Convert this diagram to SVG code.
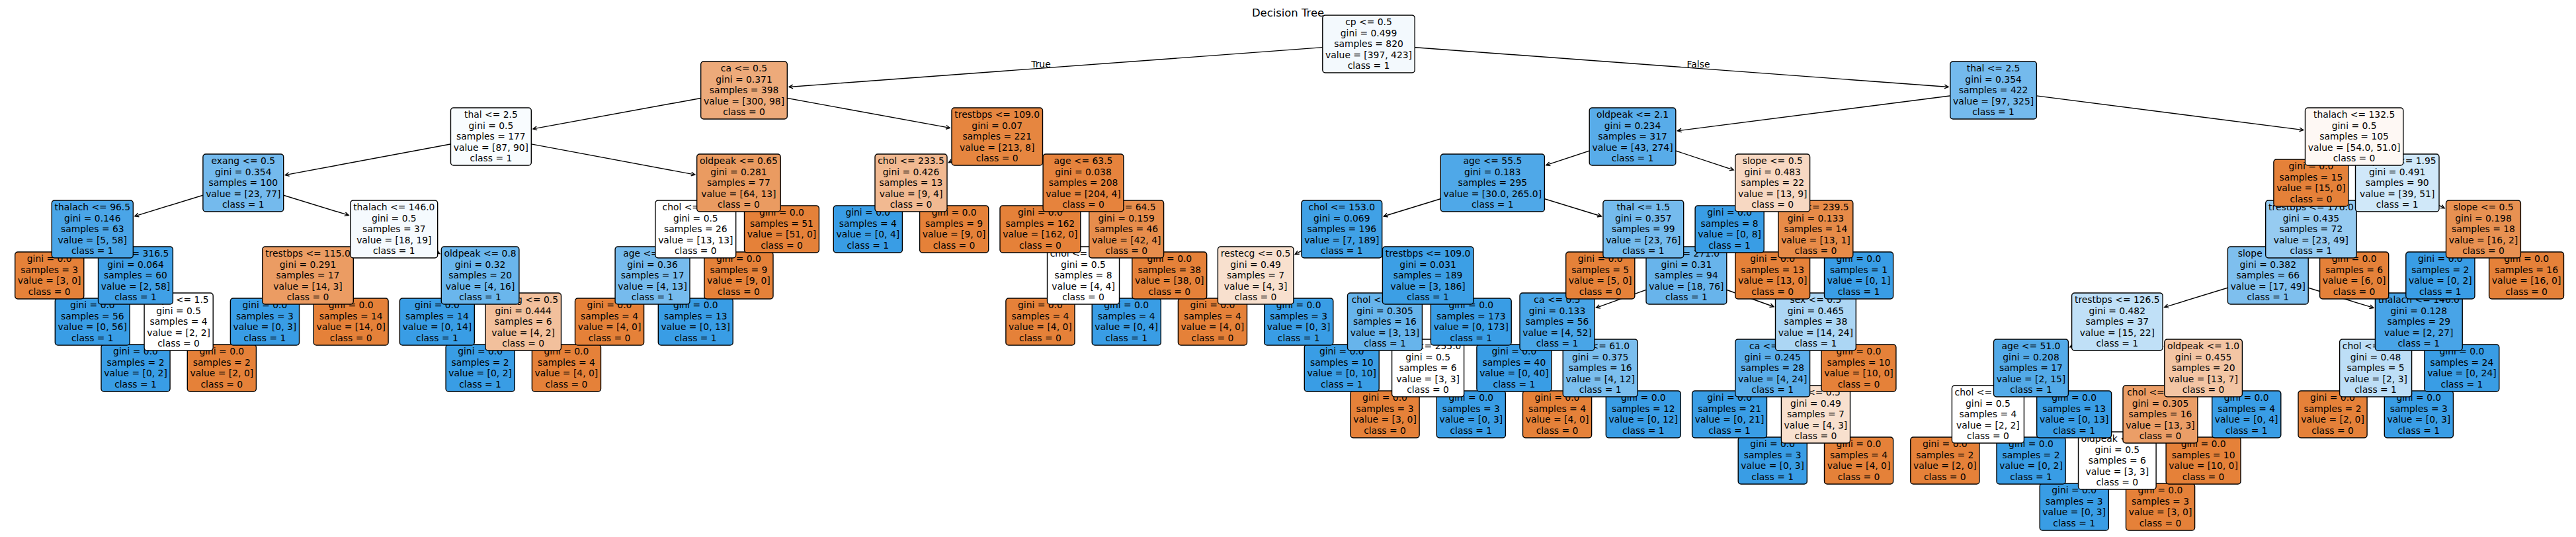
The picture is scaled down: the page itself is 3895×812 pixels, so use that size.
<svg xmlns="http://www.w3.org/2000/svg" width="3895" height="812" viewBox="0 0 3895 812">
<style>
.t{font-family:"DejaVu Sans","Liberation Sans",sans-serif;font-size:13.89px;text-anchor:middle;fill:#000}
.b{stroke:#000;stroke-width:1.39}
.o{fill:#e58139}
.c{fill:#399de5}
.e{fill:none;stroke:#000;stroke-width:1.39;marker-end:url(#ah)}
.lbl{font-family:"DejaVu Sans","Liberation Sans",sans-serif;font-size:13.89px;fill:#000}
</style>
<defs>
<marker id="ah" markerUnits="userSpaceOnUse" viewBox="-8 -6 12 12" markerWidth="12" markerHeight="12" refX="0" refY="0" orient="auto" overflow="visible"><path d="M-5.8,-2.9 L0,0 L-5.8,2.9" fill="none" stroke="#000" stroke-width="1.39"/></marker>
</defs>
<rect width="3895" height="812" fill="#fff"/>
<text x="1947.5" y="24.5" style="font-family:'DejaVu Sans','Liberation Sans',sans-serif;font-size:16.4px;text-anchor:middle;fill:#000">Decision Tree</text>
<g id="connectors">
<path class="e" d="M2069.5 66.5L1193.1 131.45"/>
<path class="e" d="M2069.5 66.5L2946 131.45"/>
<path class="e" d="M1125 136.5L806 194.86"/>
<path class="e" d="M1125 136.5L1436.2 193.43"/>
<path class="e" d="M742.4 206.5L431.4 264.61"/>
<path class="e" d="M742.4 206.5L1050.9 264.17"/>
<path class="e" d="M367.8 276.5L204 326.8"/>
<path class="e" d="M367.8 276.5L527.2 325.45"/>
<path class="e" d="M139.8 346.5L109.6 378.96"/>
<path class="e" d="M139.8 346.5L162.6 370.96"/>
<path class="e" d="M205 416.5L174.75 448.96"/>
<path class="e" d="M205 416.5L227.8 440.96"/>
<path class="e" d="M270.1 486.5L239.9 518.96"/>
<path class="e" d="M270.1 486.5L300.3 518.96"/>
<path class="e" d="M595.8 346.5L536.7 378.25"/>
<path class="e" d="M595.8 346.5L664.85 383.6"/>
<path class="e" d="M465.5 416.5L435.3 448.96"/>
<path class="e" d="M465.5 416.5L495.7 448.96"/>
<path class="e" d="M726.1 416.5L695.85 448.96"/>
<path class="e" d="M726.1 416.5L748.9 440.96"/>
<path class="e" d="M791.2 486.5L761 518.96"/>
<path class="e" d="M791.2 486.5L821.4 518.96"/>
<path class="e" d="M1116.9 276.5L1094.1 300.96"/>
<path class="e" d="M1116.9 276.5L1147.1 308.96"/>
<path class="e" d="M1051.8 346.5L1029 370.96"/>
<path class="e" d="M1051.8 346.5L1082 378.96"/>
<path class="e" d="M986.6 416.5L956.4 448.96"/>
<path class="e" d="M986.6 416.5L1016.8 448.96"/>
<path class="e" d="M1507.7 206.5L1434.45 245.88"/>
<path class="e" d="M1507.7 206.5L1574.65 242.46"/>
<path class="e" d="M1377.5 276.5L1347.25 308.96"/>
<path class="e" d="M1377.5 276.5L1407.7 308.96"/>
<path class="e" d="M1638 276.5L1607.8 308.96"/>
<path class="e" d="M1638 276.5L1660.8 300.96"/>
<path class="e" d="M1703.2 346.5L1680.4 370.96"/>
<path class="e" d="M1703.2 346.5L1733.4 378.96"/>
<path class="e" d="M1638 416.5L1607.8 448.96"/>
<path class="e" d="M1638 416.5L1668.2 448.96"/>
<path class="e" d="M3014.1 136.5L2536.56 197.77"/>
<path class="e" d="M3014.1 136.5L3482.7 196.64"/>
<path class="e" d="M2468.5 206.5L2337.99 249.66"/>
<path class="e" d="M2468.5 206.5L2621.11 256.96"/>
<path class="e" d="M2256.8 276.5L2092.36 326.98"/>
<path class="e" d="M2256.8 276.5L2421.24 326.98"/>
<path class="e" d="M2028.8 346.5L1958.3 384.4"/>
<path class="e" d="M2028.8 346.5L2087.9 378.25"/>
<path class="e" d="M1898.6 416.5L1868.35 448.96"/>
<path class="e" d="M1898.6 416.5L1928.8 448.96"/>
<path class="e" d="M2159.1 416.5L2136.3 440.96"/>
<path class="e" d="M2159.1 416.5L2189.35 448.96"/>
<path class="e" d="M2094 486.5L2063.75 518.96"/>
<path class="e" d="M2094 486.5L2116.8 510.96"/>
<path class="e" d="M2159.1 556.5L2128.9 588.96"/>
<path class="e" d="M2159.1 556.5L2189.3 588.96"/>
<path class="e" d="M2484.8 346.5L2454.6 378.96"/>
<path class="e" d="M2484.8 346.5L2507.6 370.96"/>
<path class="e" d="M2549.9 416.5L2413.57 465.34"/>
<path class="e" d="M2549.9 416.5L2681.9 463.76"/>
<path class="e" d="M2354.5 486.5L2324.3 518.96"/>
<path class="e" d="M2354.5 486.5L2377.3 510.96"/>
<path class="e" d="M2419.7 556.5L2389.5 588.96"/>
<path class="e" d="M2419.7 556.5L2449.9 588.96"/>
<path class="e" d="M2745.4 486.5L2722.6 510.96"/>
<path class="e" d="M2745.4 486.5L2775.6 518.96"/>
<path class="e" d="M2680.2 556.5L2650 588.96"/>
<path class="e" d="M2680.2 556.5L2703 580.96"/>
<path class="e" d="M2745.4 626.5L2715.2 658.96"/>
<path class="e" d="M2745.4 626.5L2775.6 658.96"/>
<path class="e" d="M2680.2 276.5L2650 308.96"/>
<path class="e" d="M2680.2 276.5L2703 300.96"/>
<path class="e" d="M2745.4 346.5L2715.2 378.96"/>
<path class="e" d="M2745.4 346.5L2775.6 378.96"/>
<path class="e" d="M3559.6 206.5L3529.4 238.96"/>
<path class="e" d="M3559.6 206.5L3582.4 230.96"/>
<path class="e" d="M3624.7 276.5L3565.6 308.25"/>
<path class="e" d="M3624.7 276.5L3696.1 314.85"/>
<path class="e" d="M3494.4 346.5L3471.6 370.96"/>
<path class="e" d="M3494.4 346.5L3524.6 378.96"/>
<path class="e" d="M3429.3 416.5L3272.7 464.57"/>
<path class="e" d="M3429.3 416.5L3588.74 465.45"/>
<path class="e" d="M3201.3 486.5L3129.9 524.85"/>
<path class="e" d="M3201.3 486.5L3270.35 523.6"/>
<path class="e" d="M3071 556.5L3048.2 580.96"/>
<path class="e" d="M3071 556.5L3101.2 588.96"/>
<path class="e" d="M3005.9 626.5L2975.7 658.96"/>
<path class="e" d="M3005.9 626.5L3036.1 658.96"/>
<path class="e" d="M3331.6 556.5L3308.8 580.96"/>
<path class="e" d="M3331.6 556.5L3361.8 588.96"/>
<path class="e" d="M3266.5 626.5L3243.7 650.96"/>
<path class="e" d="M3266.5 626.5L3296.7 658.96"/>
<path class="e" d="M3201.3 696.5L3171.1 728.96"/>
<path class="e" d="M3201.3 696.5L3231.5 728.96"/>
<path class="e" d="M3657.3 486.5L3634.5 510.96"/>
<path class="e" d="M3657.3 486.5L3687.5 518.96"/>
<path class="e" d="M3592.1 556.5L3561.9 588.96"/>
<path class="e" d="M3592.1 556.5L3622.3 588.96"/>
<path class="e" d="M3755 346.5L3724.8 378.96"/>
<path class="e" d="M3755 346.5L3785.2 378.96"/>
<text class="lbl" x="1588.7" y="101.5" text-anchor="end">True</text>
<text class="lbl" x="2550.6" y="101.5">False</text>
</g>
<g id="nodes">
<g id="n86"><rect class="b c" x="3084.2" y="731" width="104.1" height="71" rx="4.2"/><text class="t" y="746.25"><tspan x="3136.2">gini = 0.0</tspan><tspan x="3136.2" dy="16.5">samples = 3</tspan><tspan x="3136.2" dy="16.5">value = [0, 3]</tspan><tspan x="3136.2" dy="16.5">class = 1</tspan></text></g>
<g id="n87"><rect class="b o" x="3214.5" y="731" width="104.1" height="71" rx="4.2"/><text class="t" y="746.25"><tspan x="3266.5">gini = 0.0</tspan><tspan x="3266.5" dy="16.5">samples = 3</tspan><tspan x="3266.5" dy="16.5">value = [3, 0]</tspan><tspan x="3266.5" dy="16.5">class = 0</tspan></text></g>
<g id="n64"><rect class="b c" x="2628.2" y="661" width="104.1" height="71" rx="4.2"/><text class="t" y="676.25"><tspan x="2680.2">gini = 0.0</tspan><tspan x="2680.2" dy="16.5">samples = 3</tspan><tspan x="2680.2" dy="16.5">value = [0, 3]</tspan><tspan x="2680.2" dy="16.5">class = 1</tspan></text></g>
<g id="n65"><rect class="b o" x="2758.5" y="661" width="104.1" height="71" rx="4.2"/><text class="t" y="676.25"><tspan x="2810.5">gini = 0.0</tspan><tspan x="2810.5" dy="16.5">samples = 4</tspan><tspan x="2810.5" dy="16.5">value = [4, 0]</tspan><tspan x="2810.5" dy="16.5">class = 0</tspan></text></g>
<g id="n80"><rect class="b o" x="2888.8" y="661" width="104.1" height="71" rx="4.2"/><text class="t" y="676.25"><tspan x="2940.8">gini = 0.0</tspan><tspan x="2940.8" dy="16.5">samples = 2</tspan><tspan x="2940.8" dy="16.5">value = [2, 0]</tspan><tspan x="2940.8" dy="16.5">class = 0</tspan></text></g>
<g id="n81"><rect class="b c" x="3019" y="661" width="104.1" height="71" rx="4.2"/><text class="t" y="676.25"><tspan x="3071">gini = 0.0</tspan><tspan x="3071" dy="16.5">samples = 2</tspan><tspan x="3071" dy="16.5">value = [0, 2]</tspan><tspan x="3071" dy="16.5">class = 1</tspan></text></g>
<g id="n85"><rect class="b" fill="#ffffff" x="3142.5" y="653" width="117.6" height="87" rx="4.2"/><text class="t" y="668"><tspan x="3201.3">oldpeak &lt;= 0.3</tspan><tspan x="3201.3" dy="16.5">gini = 0.5</tspan><tspan x="3201.3" dy="16.5">samples = 6</tspan><tspan x="3201.3" dy="16.5">value = [3, 3]</tspan><tspan x="3201.3" dy="16.5">class = 0</tspan></text></g>
<g id="n88"><rect class="b o" x="3275.1" y="661" width="112.9" height="71" rx="4.2"/><text class="t" y="676.25"><tspan x="3331.6">gini = 0.0</tspan><tspan x="3331.6" dy="16.5">samples = 10</tspan><tspan x="3331.6" dy="16.5">value = [10, 0]</tspan><tspan x="3331.6" dy="16.5">class = 0</tspan></text></g>
<g id="n49"><rect class="b o" x="2042" y="591" width="104.1" height="71" rx="4.2"/><text class="t" y="606.25"><tspan x="2094">gini = 0.0</tspan><tspan x="2094" dy="16.5">samples = 3</tspan><tspan x="2094" dy="16.5">value = [3, 0]</tspan><tspan x="2094" dy="16.5">class = 0</tspan></text></g>
<g id="n50"><rect class="b c" x="2172.3" y="591" width="104.1" height="71" rx="4.2"/><text class="t" y="606.25"><tspan x="2224.3">gini = 0.0</tspan><tspan x="2224.3" dy="16.5">samples = 3</tspan><tspan x="2224.3" dy="16.5">value = [0, 3]</tspan><tspan x="2224.3" dy="16.5">class = 1</tspan></text></g>
<g id="n58"><rect class="b o" x="2302.5" y="591" width="104.1" height="71" rx="4.2"/><text class="t" y="606.25"><tspan x="2354.5">gini = 0.0</tspan><tspan x="2354.5" dy="16.5">samples = 4</tspan><tspan x="2354.5" dy="16.5">value = [4, 0]</tspan><tspan x="2354.5" dy="16.5">class = 0</tspan></text></g>
<g id="n59"><rect class="b c" x="2428.3" y="591" width="112.9" height="71" rx="4.2"/><text class="t" y="606.25"><tspan x="2484.8">gini = 0.0</tspan><tspan x="2484.8" dy="16.5">samples = 12</tspan><tspan x="2484.8" dy="16.5">value = [0, 12]</tspan><tspan x="2484.8" dy="16.5">class = 1</tspan></text></g>
<g id="n62"><rect class="b c" x="2558.6" y="591" width="112.9" height="71" rx="4.2"/><text class="t" y="606.25"><tspan x="2615.1">gini = 0.0</tspan><tspan x="2615.1" dy="16.5">samples = 21</tspan><tspan x="2615.1" dy="16.5">value = [0, 21]</tspan><tspan x="2615.1" dy="16.5">class = 1</tspan></text></g>
<g id="n63"><rect class="b" fill="#f8e0ce" x="2693.4" y="583" width="104.1" height="87" rx="4.2"/><text class="t" y="598"><tspan x="2745.4">fbs &lt;= 0.5</tspan><tspan x="2745.4" dy="16.5">gini = 0.49</tspan><tspan x="2745.4" dy="16.5">samples = 7</tspan><tspan x="2745.4" dy="16.5">value = [4, 3]</tspan><tspan x="2745.4" dy="16.5">class = 0</tspan></text></g>
<g id="n79"><rect class="b" fill="#ffffff" x="2951.4" y="583" width="109" height="87" rx="4.2"/><text class="t" y="598"><tspan x="3005.9">chol &lt;= 226.5</tspan><tspan x="3005.9" dy="16.5">gini = 0.5</tspan><tspan x="3005.9" dy="16.5">samples = 4</tspan><tspan x="3005.9" dy="16.5">value = [2, 2]</tspan><tspan x="3005.9" dy="16.5">class = 0</tspan></text></g>
<g id="n82"><rect class="b c" x="3079.7" y="591" width="112.9" height="71" rx="4.2"/><text class="t" y="606.25"><tspan x="3136.2">gini = 0.0</tspan><tspan x="3136.2" dy="16.5">samples = 13</tspan><tspan x="3136.2" dy="16.5">value = [0, 13]</tspan><tspan x="3136.2" dy="16.5">class = 1</tspan></text></g>
<g id="n84"><rect class="b" fill="#eb9e67" x="3210" y="583" width="112.9" height="87" rx="4.2"/><text class="t" y="598"><tspan x="3266.5">chol &lt;= 237.0</tspan><tspan x="3266.5" dy="16.5">gini = 0.305</tspan><tspan x="3266.5" dy="16.5">samples = 16</tspan><tspan x="3266.5" dy="16.5">value = [13, 3]</tspan><tspan x="3266.5" dy="16.5">class = 0</tspan></text></g>
<g id="n89"><rect class="b c" x="3344.7" y="591" width="104.1" height="71" rx="4.2"/><text class="t" y="606.25"><tspan x="3396.7">gini = 0.0</tspan><tspan x="3396.7" dy="16.5">samples = 4</tspan><tspan x="3396.7" dy="16.5">value = [0, 4]</tspan><tspan x="3396.7" dy="16.5">class = 1</tspan></text></g>
<g id="n92"><rect class="b o" x="3475" y="591" width="104.1" height="71" rx="4.2"/><text class="t" y="606.25"><tspan x="3527">gini = 0.0</tspan><tspan x="3527" dy="16.5">samples = 2</tspan><tspan x="3527" dy="16.5">value = [2, 0]</tspan><tspan x="3527" dy="16.5">class = 0</tspan></text></g>
<g id="n93"><rect class="b c" x="3605.3" y="591" width="104.1" height="71" rx="4.2"/><text class="t" y="606.25"><tspan x="3657.3">gini = 0.0</tspan><tspan x="3657.3" dy="16.5">samples = 3</tspan><tspan x="3657.3" dy="16.5">value = [0, 3]</tspan><tspan x="3657.3" dy="16.5">class = 1</tspan></text></g>
<g id="n9"><rect class="b c" x="153" y="521" width="104.1" height="71" rx="4.2"/><text class="t" y="536.25"><tspan x="205">gini = 0.0</tspan><tspan x="205" dy="16.5">samples = 2</tspan><tspan x="205" dy="16.5">value = [0, 2]</tspan><tspan x="205" dy="16.5">class = 1</tspan></text></g>
<g id="n10"><rect class="b o" x="283.3" y="521" width="104.1" height="71" rx="4.2"/><text class="t" y="536.25"><tspan x="335.3">gini = 0.0</tspan><tspan x="335.3" dy="16.5">samples = 2</tspan><tspan x="335.3" dy="16.5">value = [2, 0]</tspan><tspan x="335.3" dy="16.5">class = 0</tspan></text></g>
<g id="n18"><rect class="b c" x="674.1" y="521" width="104.1" height="71" rx="4.2"/><text class="t" y="536.25"><tspan x="726.1">gini = 0.0</tspan><tspan x="726.1" dy="16.5">samples = 2</tspan><tspan x="726.1" dy="16.5">value = [0, 2]</tspan><tspan x="726.1" dy="16.5">class = 1</tspan></text></g>
<g id="n19"><rect class="b o" x="804.4" y="521" width="104.1" height="71" rx="4.2"/><text class="t" y="536.25"><tspan x="856.4">gini = 0.0</tspan><tspan x="856.4" dy="16.5">samples = 4</tspan><tspan x="856.4" dy="16.5">value = [4, 0]</tspan><tspan x="856.4" dy="16.5">class = 0</tspan></text></g>
<g id="n47"><rect class="b c" x="1972.3" y="521" width="112.9" height="71" rx="4.2"/><text class="t" y="536.25"><tspan x="2028.8">gini = 0.0</tspan><tspan x="2028.8" dy="16.5">samples = 10</tspan><tspan x="2028.8" dy="16.5">value = [0, 10]</tspan><tspan x="2028.8" dy="16.5">class = 1</tspan></text></g>
<g id="n48"><rect class="b" fill="#ffffff" x="2104.6" y="513" width="109" height="87" rx="4.2"/><text class="t" y="528"><tspan x="2159.1">chol &lt;= 255.0</tspan><tspan x="2159.1" dy="16.5">gini = 0.5</tspan><tspan x="2159.1" dy="16.5">samples = 6</tspan><tspan x="2159.1" dy="16.5">value = [3, 3]</tspan><tspan x="2159.1" dy="16.5">class = 0</tspan></text></g>
<g id="n56"><rect class="b c" x="2232.9" y="521" width="112.9" height="71" rx="4.2"/><text class="t" y="536.25"><tspan x="2289.4">gini = 0.0</tspan><tspan x="2289.4" dy="16.5">samples = 40</tspan><tspan x="2289.4" dy="16.5">value = [0, 40]</tspan><tspan x="2289.4" dy="16.5">class = 1</tspan></text></g>
<g id="n57"><rect class="b" fill="#7bbeee" x="2363.2" y="513" width="112.9" height="87" rx="4.2"/><text class="t" y="528"><tspan x="2419.7">age &lt;= 61.0</tspan><tspan x="2419.7" dy="16.5">gini = 0.375</tspan><tspan x="2419.7" dy="16.5">samples = 16</tspan><tspan x="2419.7" dy="16.5">value = [4, 12]</tspan><tspan x="2419.7" dy="16.5">class = 1</tspan></text></g>
<g id="n61"><rect class="b" fill="#5aade9" x="2623.7" y="513" width="112.9" height="87" rx="4.2"/><text class="t" y="528"><tspan x="2680.2">ca &lt;= 0.5</tspan><tspan x="2680.2" dy="16.5">gini = 0.245</tspan><tspan x="2680.2" dy="16.5">samples = 28</tspan><tspan x="2680.2" dy="16.5">value = [4, 24]</tspan><tspan x="2680.2" dy="16.5">class = 1</tspan></text></g>
<g id="n66"><rect class="b o" x="2754" y="521" width="112.9" height="71" rx="4.2"/><text class="t" y="536.25"><tspan x="2810.5">gini = 0.0</tspan><tspan x="2810.5" dy="16.5">samples = 10</tspan><tspan x="2810.5" dy="16.5">value = [10, 0]</tspan><tspan x="2810.5" dy="16.5">class = 0</tspan></text></g>
<g id="n78"><rect class="b" fill="#53aae8" x="3014.5" y="513" width="112.9" height="87" rx="4.2"/><text class="t" y="528"><tspan x="3071">age &lt;= 51.0</tspan><tspan x="3071" dy="16.5">gini = 0.208</tspan><tspan x="3071" dy="16.5">samples = 17</tspan><tspan x="3071" dy="16.5">value = [2, 15]</tspan><tspan x="3071" dy="16.5">class = 1</tspan></text></g>
<g id="n83"><rect class="b" fill="#f3c5a4" x="3272.8" y="513" width="117.6" height="87" rx="4.2"/><text class="t" y="528"><tspan x="3331.6">oldpeak &lt;= 1.0</tspan><tspan x="3331.6" dy="16.5">gini = 0.455</tspan><tspan x="3331.6" dy="16.5">samples = 20</tspan><tspan x="3331.6" dy="16.5">value = [13, 7]</tspan><tspan x="3331.6" dy="16.5">class = 0</tspan></text></g>
<g id="n91"><rect class="b" fill="#bddef6" x="3537.6" y="513" width="109" height="87" rx="4.2"/><text class="t" y="528"><tspan x="3592.1">chol &lt;= 250.5</tspan><tspan x="3592.1" dy="16.5">gini = 0.48</tspan><tspan x="3592.1" dy="16.5">samples = 5</tspan><tspan x="3592.1" dy="16.5">value = [2, 3]</tspan><tspan x="3592.1" dy="16.5">class = 1</tspan></text></g>
<g id="n94"><rect class="b c" x="3665.9" y="521" width="112.9" height="71" rx="4.2"/><text class="t" y="536.25"><tspan x="3722.4">gini = 0.0</tspan><tspan x="3722.4" dy="16.5">samples = 24</tspan><tspan x="3722.4" dy="16.5">value = [0, 24]</tspan><tspan x="3722.4" dy="16.5">class = 1</tspan></text></g>
<g id="n7"><rect class="b c" x="83.3" y="451" width="112.9" height="71" rx="4.2"/><text class="t" y="466.25"><tspan x="139.8">gini = 0.0</tspan><tspan x="139.8" dy="16.5">samples = 56</tspan><tspan x="139.8" dy="16.5">value = [0, 56]</tspan><tspan x="139.8" dy="16.5">class = 1</tspan></text></g>
<g id="n8"><rect class="b" fill="#ffffff" x="218.1" y="443" width="104.1" height="87" rx="4.2"/><text class="t" y="458"><tspan x="270.1">slope &lt;= 1.5</tspan><tspan x="270.1" dy="16.5">gini = 0.5</tspan><tspan x="270.1" dy="16.5">samples = 4</tspan><tspan x="270.1" dy="16.5">value = [2, 2]</tspan><tspan x="270.1" dy="16.5">class = 0</tspan></text></g>
<g id="n13"><rect class="b c" x="348.4" y="451" width="104.1" height="71" rx="4.2"/><text class="t" y="466.25"><tspan x="400.4">gini = 0.0</tspan><tspan x="400.4" dy="16.5">samples = 3</tspan><tspan x="400.4" dy="16.5">value = [0, 3]</tspan><tspan x="400.4" dy="16.5">class = 1</tspan></text></g>
<g id="n14"><rect class="b o" x="474.2" y="451" width="112.9" height="71" rx="4.2"/><text class="t" y="466.25"><tspan x="530.7">gini = 0.0</tspan><tspan x="530.7" dy="16.5">samples = 14</tspan><tspan x="530.7" dy="16.5">value = [14, 0]</tspan><tspan x="530.7" dy="16.5">class = 0</tspan></text></g>
<g id="n16"><rect class="b c" x="604.4" y="451" width="112.9" height="71" rx="4.2"/><text class="t" y="466.25"><tspan x="660.9">gini = 0.0</tspan><tspan x="660.9" dy="16.5">samples = 14</tspan><tspan x="660.9" dy="16.5">value = [0, 14]</tspan><tspan x="660.9" dy="16.5">class = 1</tspan></text></g>
<g id="n17"><rect class="b" fill="#f2c09c" x="734" y="443" width="114.5" height="87" rx="4.2"/><text class="t" y="458"><tspan x="791.2">restecg &lt;= 0.5</tspan><tspan x="791.2" dy="16.5">gini = 0.444</tspan><tspan x="791.2" dy="16.5">samples = 6</tspan><tspan x="791.2" dy="16.5">value = [4, 2]</tspan><tspan x="791.2" dy="16.5">class = 0</tspan></text></g>
<g id="n23"><rect class="b o" x="869.5" y="451" width="104.1" height="71" rx="4.2"/><text class="t" y="466.25"><tspan x="921.5">gini = 0.0</tspan><tspan x="921.5" dy="16.5">samples = 4</tspan><tspan x="921.5" dy="16.5">value = [4, 0]</tspan><tspan x="921.5" dy="16.5">class = 0</tspan></text></g>
<g id="n24"><rect class="b c" x="995.3" y="451" width="112.9" height="71" rx="4.2"/><text class="t" y="466.25"><tspan x="1051.8">gini = 0.0</tspan><tspan x="1051.8" dy="16.5">samples = 13</tspan><tspan x="1051.8" dy="16.5">value = [0, 13]</tspan><tspan x="1051.8" dy="16.5">class = 1</tspan></text></g>
<g id="n35"><rect class="b o" x="1520.9" y="451" width="104.1" height="71" rx="4.2"/><text class="t" y="466.25"><tspan x="1572.9">gini = 0.0</tspan><tspan x="1572.9" dy="16.5">samples = 4</tspan><tspan x="1572.9" dy="16.5">value = [4, 0]</tspan><tspan x="1572.9" dy="16.5">class = 0</tspan></text></g>
<g id="n36"><rect class="b c" x="1651.2" y="451" width="104.1" height="71" rx="4.2"/><text class="t" y="466.25"><tspan x="1703.2">gini = 0.0</tspan><tspan x="1703.2" dy="16.5">samples = 4</tspan><tspan x="1703.2" dy="16.5">value = [0, 4]</tspan><tspan x="1703.2" dy="16.5">class = 1</tspan></text></g>
<g id="n43"><rect class="b o" x="1781.4" y="451" width="104.1" height="71" rx="4.2"/><text class="t" y="466.25"><tspan x="1833.4">gini = 0.0</tspan><tspan x="1833.4" dy="16.5">samples = 4</tspan><tspan x="1833.4" dy="16.5">value = [4, 0]</tspan><tspan x="1833.4" dy="16.5">class = 0</tspan></text></g>
<g id="n44"><rect class="b c" x="1911.7" y="451" width="104.1" height="71" rx="4.2"/><text class="t" y="466.25"><tspan x="1963.7">gini = 0.0</tspan><tspan x="1963.7" dy="16.5">samples = 3</tspan><tspan x="1963.7" dy="16.5">value = [0, 3]</tspan><tspan x="1963.7" dy="16.5">class = 1</tspan></text></g>
<g id="n46"><rect class="b" fill="#67b4eb" x="2037.5" y="443" width="112.9" height="87" rx="4.2"/><text class="t" y="458"><tspan x="2094">chol &lt;= 200.5</tspan><tspan x="2094" dy="16.5">gini = 0.305</tspan><tspan x="2094" dy="16.5">samples = 16</tspan><tspan x="2094" dy="16.5">value = [3, 13]</tspan><tspan x="2094" dy="16.5">class = 1</tspan></text></g>
<g id="n51"><rect class="b c" x="2163.4" y="451" width="121.8" height="71" rx="4.2"/><text class="t" y="466.25"><tspan x="2224.3">gini = 0.0</tspan><tspan x="2224.3" dy="16.5">samples = 173</tspan><tspan x="2224.3" dy="16.5">value = [0, 173]</tspan><tspan x="2224.3" dy="16.5">class = 1</tspan></text></g>
<g id="n55"><rect class="b" fill="#48a5e7" x="2298" y="443" width="112.9" height="87" rx="4.2"/><text class="t" y="458"><tspan x="2354.5">ca &lt;= 0.5</tspan><tspan x="2354.5" dy="16.5">gini = 0.133</tspan><tspan x="2354.5" dy="16.5">samples = 56</tspan><tspan x="2354.5" dy="16.5">value = [4, 52]</tspan><tspan x="2354.5" dy="16.5">class = 1</tspan></text></g>
<g id="n60"><rect class="b" fill="#acd6f4" x="2684.5" y="443" width="121.8" height="87" rx="4.2"/><text class="t" y="458"><tspan x="2745.4">sex &lt;= 0.5</tspan><tspan x="2745.4" dy="16.5">gini = 0.465</tspan><tspan x="2745.4" dy="16.5">samples = 38</tspan><tspan x="2745.4" dy="16.5">value = [14, 24]</tspan><tspan x="2745.4" dy="16.5">class = 1</tspan></text></g>
<g id="n77"><rect class="b" fill="#c0e0f7" x="3132.6" y="443" width="137.5" height="87" rx="4.2"/><text class="t" y="458"><tspan x="3201.3">trestbps &lt;= 126.5</tspan><tspan x="3201.3" dy="16.5">gini = 0.482</tspan><tspan x="3201.3" dy="16.5">samples = 37</tspan><tspan x="3201.3" dy="16.5">value = [15, 22]</tspan><tspan x="3201.3" dy="16.5">class = 1</tspan></text></g>
<g id="n90"><rect class="b" fill="#48a4e7" x="3591.4" y="443" width="131.8" height="87" rx="4.2"/><text class="t" y="458"><tspan x="3657.3">thalach &lt;= 146.0</tspan><tspan x="3657.3" dy="16.5">gini = 0.128</tspan><tspan x="3657.3" dy="16.5">samples = 29</tspan><tspan x="3657.3" dy="16.5">value = [2, 27]</tspan><tspan x="3657.3" dy="16.5">class = 1</tspan></text></g>
<g id="n5"><rect class="b o" x="22.7" y="381" width="104.1" height="71" rx="4.2"/><text class="t" y="396.25"><tspan x="74.7">gini = 0.0</tspan><tspan x="74.7" dy="16.5">samples = 3</tspan><tspan x="74.7" dy="16.5">value = [3, 0]</tspan><tspan x="74.7" dy="16.5">class = 0</tspan></text></g>
<g id="n6"><rect class="b" fill="#40a0e6" x="148.5" y="373" width="112.9" height="87" rx="4.2"/><text class="t" y="388"><tspan x="205">chol &lt;= 316.5</tspan><tspan x="205" dy="16.5">gini = 0.064</tspan><tspan x="205" dy="16.5">samples = 60</tspan><tspan x="205" dy="16.5">value = [2, 58]</tspan><tspan x="205" dy="16.5">class = 1</tspan></text></g>
<g id="n12"><rect class="b" fill="#eb9c63" x="396.8" y="373" width="137.5" height="87" rx="4.2"/><text class="t" y="388"><tspan x="465.5">trestbps &lt;= 115.0</tspan><tspan x="465.5" dy="16.5">gini = 0.291</tspan><tspan x="465.5" dy="16.5">samples = 17</tspan><tspan x="465.5" dy="16.5">value = [14, 3]</tspan><tspan x="465.5" dy="16.5">class = 0</tspan></text></g>
<g id="n15"><rect class="b" fill="#6ab6ec" x="667.3" y="373" width="117.6" height="87" rx="4.2"/><text class="t" y="388"><tspan x="726.1">oldpeak &lt;= 0.8</tspan><tspan x="726.1" dy="16.5">gini = 0.32</tspan><tspan x="726.1" dy="16.5">samples = 20</tspan><tspan x="726.1" dy="16.5">value = [4, 16]</tspan><tspan x="726.1" dy="16.5">class = 1</tspan></text></g>
<g id="n22"><rect class="b" fill="#76bbed" x="930.1" y="373" width="112.9" height="87" rx="4.2"/><text class="t" y="388"><tspan x="986.6">age &lt;= 56.5</tspan><tspan x="986.6" dy="16.5">gini = 0.36</tspan><tspan x="986.6" dy="16.5">samples = 17</tspan><tspan x="986.6" dy="16.5">value = [4, 13]</tspan><tspan x="986.6" dy="16.5">class = 1</tspan></text></g>
<g id="n25"><rect class="b o" x="1064.9" y="381" width="104.1" height="71" rx="4.2"/><text class="t" y="396.25"><tspan x="1116.9">gini = 0.0</tspan><tspan x="1116.9" dy="16.5">samples = 9</tspan><tspan x="1116.9" dy="16.5">value = [9, 0]</tspan><tspan x="1116.9" dy="16.5">class = 0</tspan></text></g>
<g id="n34"><rect class="b" fill="#ffffff" x="1583.5" y="373" width="109" height="87" rx="4.2"/><text class="t" y="388"><tspan x="1638">chol &lt;= 241.5</tspan><tspan x="1638" dy="16.5">gini = 0.5</tspan><tspan x="1638" dy="16.5">samples = 8</tspan><tspan x="1638" dy="16.5">value = [4, 4]</tspan><tspan x="1638" dy="16.5">class = 0</tspan></text></g>
<g id="n37"><rect class="b o" x="1711.8" y="381" width="112.9" height="71" rx="4.2"/><text class="t" y="396.25"><tspan x="1768.3">gini = 0.0</tspan><tspan x="1768.3" dy="16.5">samples = 38</tspan><tspan x="1768.3" dy="16.5">value = [38, 0]</tspan><tspan x="1768.3" dy="16.5">class = 0</tspan></text></g>
<g id="n42"><rect class="b" fill="#f8e0ce" x="1841.4" y="373" width="114.5" height="87" rx="4.2"/><text class="t" y="388"><tspan x="1898.6">restecg &lt;= 0.5</tspan><tspan x="1898.6" dy="16.5">gini = 0.49</tspan><tspan x="1898.6" dy="16.5">samples = 7</tspan><tspan x="1898.6" dy="16.5">value = [4, 3]</tspan><tspan x="1898.6" dy="16.5">class = 0</tspan></text></g>
<g id="n45"><rect class="b" fill="#3c9fe5" x="2090.4" y="373" width="137.5" height="87" rx="4.2"/><text class="t" y="388"><tspan x="2159.1">trestbps &lt;= 109.0</tspan><tspan x="2159.1" dy="16.5">gini = 0.031</tspan><tspan x="2159.1" dy="16.5">samples = 189</tspan><tspan x="2159.1" dy="16.5">value = [3, 186]</tspan><tspan x="2159.1" dy="16.5">class = 1</tspan></text></g>
<g id="n53"><rect class="b o" x="2367.7" y="381" width="104.1" height="71" rx="4.2"/><text class="t" y="396.25"><tspan x="2419.7">gini = 0.0</tspan><tspan x="2419.7" dy="16.5">samples = 5</tspan><tspan x="2419.7" dy="16.5">value = [5, 0]</tspan><tspan x="2419.7" dy="16.5">class = 0</tspan></text></g>
<g id="n54"><rect class="b" fill="#68b4eb" x="2489" y="373" width="121.8" height="87" rx="4.2"/><text class="t" y="388"><tspan x="2549.9">chol &lt;= 271.0</tspan><tspan x="2549.9" dy="16.5">gini = 0.31</tspan><tspan x="2549.9" dy="16.5">samples = 94</tspan><tspan x="2549.9" dy="16.5">value = [18, 76]</tspan><tspan x="2549.9" dy="16.5">class = 1</tspan></text></g>
<g id="n70"><rect class="b o" x="2623.7" y="381" width="112.9" height="71" rx="4.2"/><text class="t" y="396.25"><tspan x="2680.2">gini = 0.0</tspan><tspan x="2680.2" dy="16.5">samples = 13</tspan><tspan x="2680.2" dy="16.5">value = [13, 0]</tspan><tspan x="2680.2" dy="16.5">class = 0</tspan></text></g>
<g id="n71"><rect class="b c" x="2758.5" y="381" width="104.1" height="71" rx="4.2"/><text class="t" y="396.25"><tspan x="2810.5">gini = 0.0</tspan><tspan x="2810.5" dy="16.5">samples = 1</tspan><tspan x="2810.5" dy="16.5">value = [0, 1]</tspan><tspan x="2810.5" dy="16.5">class = 1</tspan></text></g>
<g id="n76"><rect class="b" fill="#7ebfee" x="3368.4" y="373" width="121.8" height="87" rx="4.2"/><text class="t" y="388"><tspan x="3429.3">slope &lt;= 1.5</tspan><tspan x="3429.3" dy="16.5">gini = 0.382</tspan><tspan x="3429.3" dy="16.5">samples = 66</tspan><tspan x="3429.3" dy="16.5">value = [17, 49]</tspan><tspan x="3429.3" dy="16.5">class = 1</tspan></text></g>
<g id="n95"><rect class="b o" x="3507.6" y="381" width="104.1" height="71" rx="4.2"/><text class="t" y="396.25"><tspan x="3559.6">gini = 0.0</tspan><tspan x="3559.6" dy="16.5">samples = 6</tspan><tspan x="3559.6" dy="16.5">value = [6, 0]</tspan><tspan x="3559.6" dy="16.5">class = 0</tspan></text></g>
<g id="n97"><rect class="b c" x="3637.8" y="381" width="104.1" height="71" rx="4.2"/><text class="t" y="396.25"><tspan x="3689.8">gini = 0.0</tspan><tspan x="3689.8" dy="16.5">samples = 2</tspan><tspan x="3689.8" dy="16.5">value = [0, 2]</tspan><tspan x="3689.8" dy="16.5">class = 1</tspan></text></g>
<g id="n98"><rect class="b o" x="3763.6" y="381" width="112.9" height="71" rx="4.2"/><text class="t" y="396.25"><tspan x="3820.1">gini = 0.0</tspan><tspan x="3820.1" dy="16.5">samples = 16</tspan><tspan x="3820.1" dy="16.5">value = [16, 0]</tspan><tspan x="3820.1" dy="16.5">class = 0</tspan></text></g>
<g id="n4"><rect class="b" fill="#4aa5e7" x="78.3" y="303" width="123" height="87" rx="4.2"/><text class="t" y="318"><tspan x="139.8">thalach &lt;= 96.5</tspan><tspan x="139.8" dy="16.5">gini = 0.146</tspan><tspan x="139.8" dy="16.5">samples = 63</tspan><tspan x="139.8" dy="16.5">value = [5, 58]</tspan><tspan x="139.8" dy="16.5">class = 1</tspan></text></g>
<g id="n11"><rect class="b" fill="#f5fafe" x="529.9" y="303" width="131.8" height="87" rx="4.2"/><text class="t" y="318"><tspan x="595.8">thalach &lt;= 146.0</tspan><tspan x="595.8" dy="16.5">gini = 0.5</tspan><tspan x="595.8" dy="16.5">samples = 37</tspan><tspan x="595.8" dy="16.5">value = [18, 19]</tspan><tspan x="595.8" dy="16.5">class = 1</tspan></text></g>
<g id="n21"><rect class="b" fill="#ffffff" x="990.9" y="303" width="121.8" height="87" rx="4.2"/><text class="t" y="318"><tspan x="1051.8">chol &lt;= 228.5</tspan><tspan x="1051.8" dy="16.5">gini = 0.5</tspan><tspan x="1051.8" dy="16.5">samples = 26</tspan><tspan x="1051.8" dy="16.5">value = [13, 13]</tspan><tspan x="1051.8" dy="16.5">class = 0</tspan></text></g>
<g id="n26"><rect class="b o" x="1125.5" y="311" width="112.9" height="71" rx="4.2"/><text class="t" y="326.25"><tspan x="1182">gini = 0.0</tspan><tspan x="1182" dy="16.5">samples = 51</tspan><tspan x="1182" dy="16.5">value = [51, 0]</tspan><tspan x="1182" dy="16.5">class = 0</tspan></text></g>
<g id="n29"><rect class="b c" x="1260.3" y="311" width="104.1" height="71" rx="4.2"/><text class="t" y="326.25"><tspan x="1312.3">gini = 0.0</tspan><tspan x="1312.3" dy="16.5">samples = 4</tspan><tspan x="1312.3" dy="16.5">value = [0, 4]</tspan><tspan x="1312.3" dy="16.5">class = 1</tspan></text></g>
<g id="n30"><rect class="b o" x="1390.6" y="311" width="104.1" height="71" rx="4.2"/><text class="t" y="326.25"><tspan x="1442.6">gini = 0.0</tspan><tspan x="1442.6" dy="16.5">samples = 9</tspan><tspan x="1442.6" dy="16.5">value = [9, 0]</tspan><tspan x="1442.6" dy="16.5">class = 0</tspan></text></g>
<g id="n32"><rect class="b o" x="1512" y="311" width="121.8" height="71" rx="4.2"/><text class="t" y="326.25"><tspan x="1572.9">gini = 0.0</tspan><tspan x="1572.9" dy="16.5">samples = 162</tspan><tspan x="1572.9" dy="16.5">value = [162, 0]</tspan><tspan x="1572.9" dy="16.5">class = 0</tspan></text></g>
<g id="n33"><rect class="b" fill="#e78d4c" x="1646.7" y="303" width="112.9" height="87" rx="4.2"/><text class="t" y="318"><tspan x="1703.2">age &lt;= 64.5</tspan><tspan x="1703.2" dy="16.5">gini = 0.159</tspan><tspan x="1703.2" dy="16.5">samples = 46</tspan><tspan x="1703.2" dy="16.5">value = [42, 4]</tspan><tspan x="1703.2" dy="16.5">class = 0</tspan></text></g>
<g id="n41"><rect class="b" fill="#40a1e6" x="1967.9" y="303" width="121.8" height="87" rx="4.2"/><text class="t" y="318"><tspan x="2028.8">chol &lt;= 153.0</tspan><tspan x="2028.8" dy="16.5">gini = 0.069</tspan><tspan x="2028.8" dy="16.5">samples = 196</tspan><tspan x="2028.8" dy="16.5">value = [7, 189]</tspan><tspan x="2028.8" dy="16.5">class = 1</tspan></text></g>
<g id="n52"><rect class="b" fill="#75bbed" x="2423.9" y="303" width="121.8" height="87" rx="4.2"/><text class="t" y="318"><tspan x="2484.8">thal &lt;= 1.5</tspan><tspan x="2484.8" dy="16.5">gini = 0.357</tspan><tspan x="2484.8" dy="16.5">samples = 99</tspan><tspan x="2484.8" dy="16.5">value = [23, 76]</tspan><tspan x="2484.8" dy="16.5">class = 1</tspan></text></g>
<g id="n68"><rect class="b c" x="2563.1" y="311" width="104.1" height="71" rx="4.2"/><text class="t" y="326.25"><tspan x="2615.1">gini = 0.0</tspan><tspan x="2615.1" dy="16.5">samples = 8</tspan><tspan x="2615.1" dy="16.5">value = [0, 8]</tspan><tspan x="2615.1" dy="16.5">class = 1</tspan></text></g>
<g id="n69"><rect class="b" fill="#e78b48" x="2688.9" y="303" width="112.9" height="87" rx="4.2"/><text class="t" y="318"><tspan x="2745.4">chol &lt;= 239.5</tspan><tspan x="2745.4" dy="16.5">gini = 0.133</tspan><tspan x="2745.4" dy="16.5">samples = 14</tspan><tspan x="2745.4" dy="16.5">value = [13, 1]</tspan><tspan x="2745.4" dy="16.5">class = 0</tspan></text></g>
<g id="n75"><rect class="b" fill="#96cbf1" x="3425.7" y="303" width="137.5" height="87" rx="4.2"/><text class="t" y="318"><tspan x="3494.4">trestbps &lt;= 176.0</tspan><tspan x="3494.4" dy="16.5">gini = 0.435</tspan><tspan x="3494.4" dy="16.5">samples = 72</tspan><tspan x="3494.4" dy="16.5">value = [23, 49]</tspan><tspan x="3494.4" dy="16.5">class = 1</tspan></text></g>
<g id="n96"><rect class="b" fill="#e89152" x="3698.5" y="303" width="112.9" height="87" rx="4.2"/><text class="t" y="318"><tspan x="3755">slope &lt;= 0.5</tspan><tspan x="3755" dy="16.5">gini = 0.198</tspan><tspan x="3755" dy="16.5">samples = 18</tspan><tspan x="3755" dy="16.5">value = [16, 2]</tspan><tspan x="3755" dy="16.5">class = 0</tspan></text></g>
<g id="n3"><rect class="b" fill="#74baed" x="306.9" y="233" width="121.8" height="87" rx="4.2"/><text class="t" y="248"><tspan x="367.8">exang &lt;= 0.5</tspan><tspan x="367.8" dy="16.5">gini = 0.354</tspan><tspan x="367.8" dy="16.5">samples = 100</tspan><tspan x="367.8" dy="16.5">value = [23, 77]</tspan><tspan x="367.8" dy="16.5">class = 1</tspan></text></g>
<g id="n20"><rect class="b" fill="#ea9b61" x="1053.7" y="233" width="126.5" height="87" rx="4.2"/><text class="t" y="248"><tspan x="1116.9">oldpeak &lt;= 0.65</tspan><tspan x="1116.9" dy="16.5">gini = 0.281</tspan><tspan x="1116.9" dy="16.5">samples = 77</tspan><tspan x="1116.9" dy="16.5">value = [64, 13]</tspan><tspan x="1116.9" dy="16.5">class = 0</tspan></text></g>
<g id="n28"><rect class="b" fill="#f1b991" x="1323" y="233" width="109" height="87" rx="4.2"/><text class="t" y="248"><tspan x="1377.5">chol &lt;= 233.5</tspan><tspan x="1377.5" dy="16.5">gini = 0.426</tspan><tspan x="1377.5" dy="16.5">samples = 13</tspan><tspan x="1377.5" dy="16.5">value = [9, 4]</tspan><tspan x="1377.5" dy="16.5">class = 0</tspan></text></g>
<g id="n31"><rect class="b" fill="#e6833d" x="1577.1" y="233" width="121.8" height="87" rx="4.2"/><text class="t" y="248"><tspan x="1638">age &lt;= 63.5</tspan><tspan x="1638" dy="16.5">gini = 0.038</tspan><tspan x="1638" dy="16.5">samples = 208</tspan><tspan x="1638" dy="16.5">value = [204, 4]</tspan><tspan x="1638" dy="16.5">class = 0</tspan></text></g>
<g id="n40"><rect class="b" fill="#4fa8e8" x="2178.3" y="233" width="157.1" height="87" rx="4.2"/><text class="t" y="248"><tspan x="2256.8">age &lt;= 55.5</tspan><tspan x="2256.8" dy="16.5">gini = 0.183</tspan><tspan x="2256.8" dy="16.5">samples = 295</tspan><tspan x="2256.8" dy="16.5">value = [30.0, 265.0]</tspan><tspan x="2256.8" dy="16.5">class = 1</tspan></text></g>
<g id="n67"><rect class="b" fill="#f7d8c2" x="2623.7" y="233" width="112.9" height="87" rx="4.2"/><text class="t" y="248"><tspan x="2680.2">slope &lt;= 0.5</tspan><tspan x="2680.2" dy="16.5">gini = 0.483</tspan><tspan x="2680.2" dy="16.5">samples = 22</tspan><tspan x="2680.2" dy="16.5">value = [13, 9]</tspan><tspan x="2680.2" dy="16.5">class = 0</tspan></text></g>
<g id="n73"><rect class="b o" x="3437.9" y="241" width="112.9" height="71" rx="4.2"/><text class="t" y="256.25"><tspan x="3494.4">gini = 0.0</tspan><tspan x="3494.4" dy="16.5">samples = 15</tspan><tspan x="3494.4" dy="16.5">value = [15, 0]</tspan><tspan x="3494.4" dy="16.5">class = 0</tspan></text></g>
<g id="n74"><rect class="b" fill="#d0e8f9" x="3561.5" y="233" width="126.5" height="87" rx="4.2"/><text class="t" y="248"><tspan x="3624.7">oldpeak &lt;= 1.95</tspan><tspan x="3624.7" dy="16.5">gini = 0.491</tspan><tspan x="3624.7" dy="16.5">samples = 90</tspan><tspan x="3624.7" dy="16.5">value = [39, 51]</tspan><tspan x="3624.7" dy="16.5">class = 1</tspan></text></g>
<g id="n2"><rect class="b" fill="#f8fcfe" x="681.5" y="163" width="121.8" height="87" rx="4.2"/><text class="t" y="178"><tspan x="742.4">thal &lt;= 2.5</tspan><tspan x="742.4" dy="16.5">gini = 0.5</tspan><tspan x="742.4" dy="16.5">samples = 177</tspan><tspan x="742.4" dy="16.5">value = [87, 90]</tspan><tspan x="742.4" dy="16.5">class = 1</tspan></text></g>
<g id="n27"><rect class="b" fill="#e68640" x="1439" y="163" width="137.5" height="87" rx="4.2"/><text class="t" y="178"><tspan x="1507.7">trestbps &lt;= 109.0</tspan><tspan x="1507.7" dy="16.5">gini = 0.07</tspan><tspan x="1507.7" dy="16.5">samples = 221</tspan><tspan x="1507.7" dy="16.5">value = [213, 8]</tspan><tspan x="1507.7" dy="16.5">class = 0</tspan></text></g>
<g id="n39"><rect class="b" fill="#58ace9" x="2403.2" y="163" width="130.6" height="87" rx="4.2"/><text class="t" y="178"><tspan x="2468.5">oldpeak &lt;= 2.1</tspan><tspan x="2468.5" dy="16.5">gini = 0.234</tspan><tspan x="2468.5" dy="16.5">samples = 317</tspan><tspan x="2468.5" dy="16.5">value = [43, 274]</tspan><tspan x="2468.5" dy="16.5">class = 1</tspan></text></g>
<g id="n72"><rect class="b" fill="#fef8f4" x="3485.5" y="163" width="148.3" height="87" rx="4.2"/><text class="t" y="178"><tspan x="3559.6">thalach &lt;= 132.5</tspan><tspan x="3559.6" dy="16.5">gini = 0.5</tspan><tspan x="3559.6" dy="16.5">samples = 105</tspan><tspan x="3559.6" dy="16.5">value = [54.0, 51.0]</tspan><tspan x="3559.6" dy="16.5">class = 0</tspan></text></g>
<g id="n1"><rect class="b" fill="#edaa7a" x="1059.7" y="93" width="130.6" height="87" rx="4.2"/><text class="t" y="108"><tspan x="1125">ca &lt;= 0.5</tspan><tspan x="1125" dy="16.5">gini = 0.371</tspan><tspan x="1125" dy="16.5">samples = 398</tspan><tspan x="1125" dy="16.5">value = [300, 98]</tspan><tspan x="1125" dy="16.5">class = 0</tspan></text></g>
<g id="n38"><rect class="b" fill="#74baed" x="2948.8" y="93" width="130.6" height="87" rx="4.2"/><text class="t" y="108"><tspan x="3014.1">thal &lt;= 2.5</tspan><tspan x="3014.1" dy="16.5">gini = 0.354</tspan><tspan x="3014.1" dy="16.5">samples = 422</tspan><tspan x="3014.1" dy="16.5">value = [97, 325]</tspan><tspan x="3014.1" dy="16.5">class = 1</tspan></text></g>
<g id="n0"><rect class="b" fill="#f3f9fd" x="1999.8" y="23" width="139.4" height="87" rx="4.2"/><text class="t" y="38"><tspan x="2069.5">cp &lt;= 0.5</tspan><tspan x="2069.5" dy="16.5">gini = 0.499</tspan><tspan x="2069.5" dy="16.5">samples = 820</tspan><tspan x="2069.5" dy="16.5">value = [397, 423]</tspan><tspan x="2069.5" dy="16.5">class = 1</tspan></text></g>
</g>
</svg>
